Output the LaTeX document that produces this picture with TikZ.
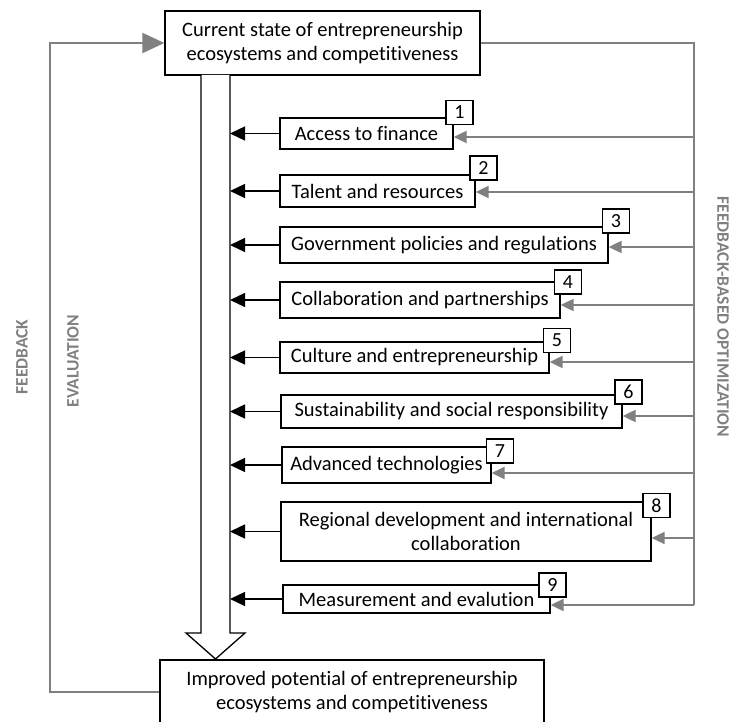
\documentclass[tikz,border=0pt]{standalone}
\usepackage{fontspec}
\setmainfont{Carlito}[Ligatures=NoCommon]
\usetikzlibrary{arrows.meta}
\definecolor{fbgray}{RGB}{128,128,128}
\begin{document}
\begin{tikzpicture}[x=1pt,y=-1pt,
  box/.style={draw=black,line width=1.3pt,fill=white,inner sep=0pt,align=center,
    font=\fontsize{20.5}{24.5}\selectfont},
  numbox/.style={draw=black,line width=1.3pt,fill=white,inner sep=0pt,
    minimum width=27pt,minimum height=24pt,font=\fontsize{20}{24}\selectfont},
  inarrow/.style={draw=black,line width=1.3pt,-{Triangle[length=15pt,width=14pt]}},
  fbarrow/.style={draw=fbgray,line width=2pt,-{Triangle[length=13pt,width=12pt]}},
  fbline/.style={draw=fbgray,line width=2pt},
  sidelabel/.style={text=fbgray,inner sep=0pt,font=\bfseries\fontsize{17.5}{20}\selectfont}
]
\useasboundingbox (0,0) rectangle (734,722);
\clip (0,0) rectangle (734,722);

% reference lines: right edge of the process arrow, feedback buses
\coordinate (rl) at (230,75);
\coordinate (bus) at (694,0);
\coordinate (fbx) at (50,0);

% start and end states
\node[box,minimum width=315pt,minimum height=64pt] (top) at (322.5,43)
  {Current state of entrepreneurship\\ecosystems and competitiveness};

% hollow process arrow
\draw[line width=1.3pt,fill=white] (201,75) -- (201,633) -- (186,633)
  -- (215.5,659) -- (245,633) -- (230,633) -- (230,75);

\node[box,minimum width=384pt,minimum height=64pt] (bot) at (352,692)
  {Improved potential of entrepreneurship\\ecosystems and competitiveness};

% factor boxes
\node[box,minimum width=173pt,minimum height=31pt] (b1) at (366.5,133.5) {Access to finance};
\node[box,minimum width=195pt,minimum height=32pt] (b2) at (377.5,191) {Talent and resources};
\node[box,minimum width=328pt,minimum height=36pt] (b3) at (444,245) {Government policies and regulations};
\node[box,minimum width=280pt,minimum height=36pt] (b4) at (420,300) {Collaboration and partnerships};
\node[box,minimum width=269pt,minimum height=31pt] (b5) at (414.5,357.5) {Culture and entrepreneurship};
\node[box,minimum width=341pt,minimum height=33pt] (b6) at (451.5,411.5) {Sustainability and social responsibility};
\node[box,minimum width=209pt,minimum height=36pt] (b7) at (386.5,465) {Advanced technologies};
\node[box,minimum width=370pt,minimum height=59pt] (b8) at (466,531.5) {Regional development and international\\collaboration};
\node[box,minimum width=267pt,minimum height=28pt] (b9) at (416.5,599) {Measurement and evalution};

% number tags
\node[numbox] (n1) at (459.5,112.5) {1};
\node[numbox] (n2) at (483.5,168) {2};
\node[numbox] (n3) at (616,221) {3};
\node[numbox] (n4) at (568,282) {4};
\node[numbox] (n5) at (557,340.5) {5};
\node[numbox] (n6) at (628.5,392) {6};
\node[numbox] (n7) at (500,451) {7};
\node[numbox] (n8) at (656.5,505.5) {8};
\node[numbox] (n9) at (552.5,585) {9};

% factors feeding the process
\foreach \b in {b1,b2,b3,b4,b5,b6,b7,b8,b9}
  \draw[inarrow] (\b.west) -- (\b.west -| rl);

% feedback-based optimization bus
\draw[fbline] (top.east) -- (top.east -| bus) -- ([yshift=-6pt]b9.east -| bus);
\foreach \b/\d in {b1/3.5,b2/1,b3/2,b4/5,b5/4.5,b6/4.5,b7/8,b8/6.5,b9/6}
  \draw[fbarrow] ([yshift=-\d pt]\b.east -| bus) -- ([yshift=-\d pt]\b.east);

% feedback loop
\draw[fbline,-{Triangle[length=22pt,width=20pt]}] (bot.west) -- (bot.west -| fbx)
  -- (top.west -| fbx) -- (top.west);

% side labels
\node[sidelabel,rotate=90] (lfb) at (22,357) {FEEDBACK};
\node[sidelabel,rotate=90] (lev) at (73,361) {EVALUATION};
\node[sidelabel,rotate=-90] (rfb) at (723,317) {FEEDBACK-BASED OPTIMIZATION};
\end{tikzpicture}
\end{document}
